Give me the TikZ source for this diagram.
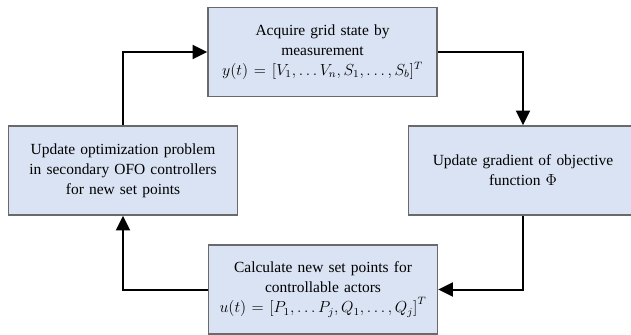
\documentclass[tikz,border=0pt]{standalone}
\usepackage{fontspec}
\setmainfont{Liberation Serif}
\usetikzlibrary{arrows.meta}
\definecolor{boxfill}{HTML}{DAE3F3}
\definecolor{boxline}{HTML}{6A6A6A}
\tikzset{
  stepbox/.style={draw=boxline, line width=1.2pt, fill=boxfill, minimum width=229*0.75pt, minimum height=89*0.75pt,
    text width=220*0.75pt, align=center, inner sep=0pt,
    font=\fontsize{11.6}{15}\selectfont},
  arr/.style={line width=1.5pt, -{Triangle[length=11pt,width=10.5pt]}}
}
\begin{document}
\begin{tikzpicture}[x=0.75pt,y=-0.75pt]
\useasboundingbox (0,0) rectangle (631,335);
\node[stepbox] (T) at (322.5,52) {Acquire grid state by\\ measurement\\ $y(t)=[V_1,\dots V_n,S_1,\dots,S_b]^T$};
\node[stepbox] (R) at (523,170.5) {Update gradient of objective\\ function $\Phi$};
\node[stepbox] (B) at (323,289.5) {Calculate new set points for\\ controllable actors\\ $u(t)=\bigl[P_1,\dots P_j,Q_1,\dots,Q_j\bigr]^T$};
\node[stepbox] (L) at (123,170.5) {Update optimization problem\\ in secondary OFO controllers\\ for new set points};
\draw[arr] (L.north) |- (T.west);
\draw[arr] (T.east) -| (R.north);
\draw[arr] (R.south) |- (B.east);
\draw[arr] (B.west) -| (L.south);
\end{tikzpicture}
\end{document}
